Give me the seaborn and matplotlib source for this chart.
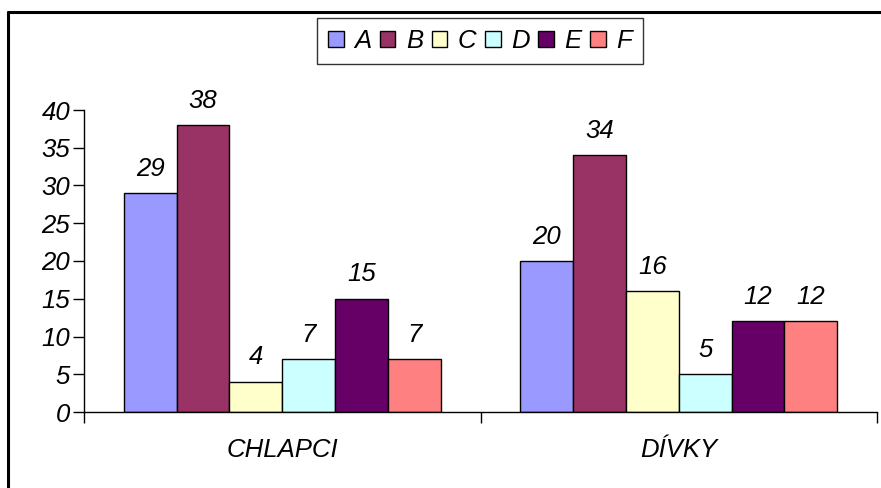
import pandas as pd
import matplotlib.pyplot as plt
import seaborn as sns
from matplotlib.lines import Line2D

groups = ['CHLAPCI', 'DÍVKY']
series = ['A', 'B', 'C', 'D', 'E', 'F']
chlapci = [29, 38, 4, 7, 15, 7]
divky = [20, 34, 16, 5, 12, 12]
colors = ['#9999FF', '#993366', '#FFFFCC', '#CCFFFF', '#660066', '#FF8080']

df = pd.DataFrame({
    'skupina': [groups[0]] * 6 + [groups[1]] * 6,
    'serie': series + series,
    'hodnota': chlapci + divky,
})

sns.set_style("white")
plt.rcParams['font.family'] = ['Liberation Sans', 'DejaVu Sans']
plt.rcParams['text.color'] = 'black'
plt.rcParams['xtick.labelcolor'] = 'black'
plt.rcParams['ytick.labelcolor'] = 'black'
fs = 18.5

fig = plt.figure(figsize=(8.81, 4.88), dpi=100)
ax = fig.add_axes([84 / 881, 1 - 412 / 488, 793 / 881, 302 / 488])

sns.barplot(data=df, x='skupina', y='hodnota', hue='serie', palette=colors,
            edgecolor='black', linewidth=1, width=0.8, saturation=1, ax=ax)

for c in ax.containers:
    ax.bar_label(c, padding=9, fontsize=fs, fontstyle='italic', color='black')

ax.set_ylim(0, 40)
ax.set_xlim(-0.5, 1.5)
ax.set_yticks(range(0, 41, 5))
ax.set_xlabel('')
ax.set_ylabel('')
for s in ['top', 'right']:
    ax.spines[s].set_visible(False)
for s in ['left', 'bottom']:
    ax.spines[s].set_color('black')
    ax.spines[s].set_linewidth(1)

ax.tick_params(axis='y', direction='out', length=8, width=1, color='black',
               labelsize=fs, pad=2, left=True, labelcolor='black')
ax.tick_params(axis='x', which='major', length=0, labelsize=fs, pad=19, labelcolor='black')
ax.set_xticks([-0.5, 0.5, 1.5], minor=True)
ax.tick_params(axis='x', which='minor', direction='out', length=8, width=1,
               color='black', bottom=True)
for lbl in ax.get_xticklabels() + ax.get_yticklabels():
    lbl.set_fontstyle('italic')

handles = [plt.Rectangle((0, 0), 1, 1, facecolor=col, edgecolor='black', linewidth=1)
           for col in colors]
leg = ax.legend(handles, series, ncol=6, loc='upper center',
                bbox_to_anchor=(480 / 881, 1 - 18 / 488), bbox_transform=fig.transFigure,
                frameon=True, fancybox=False, edgecolor='black',
                handlelength=0.6, handleheight=0.6, handletextpad=0.4,
                columnspacing=0.35, borderpad=0.42, borderaxespad=0,
                prop={'style': 'italic', 'size': fs})
leg.get_frame().set_linewidth(1)
for t in leg.get_texts():
    t.set_color('black')

# outer chart border (only left and top edges visible in crop)
fig.add_artist(Line2D([8 / 881, 8 / 881], [0, 1 - 12 / 488], color='black', linewidth=2.2))
fig.add_artist(Line2D([8 / 881, 1], [1 - 12 / 488, 1 - 12 / 488], color='black', linewidth=2.2))

fig.savefig('out.png', dpi=100)
